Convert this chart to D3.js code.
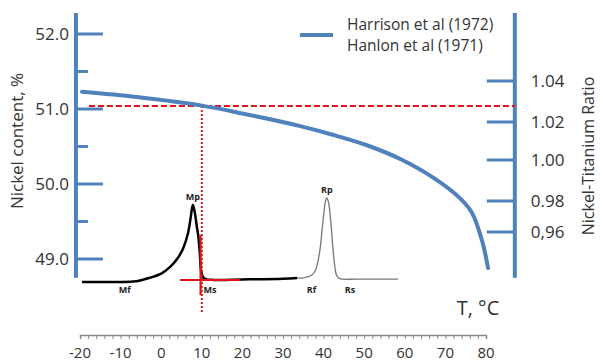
<!DOCTYPE html>
<html>
<head>
<meta charset="utf-8">
<script src="https://cdn.jsdelivr.net/npm/d3@7"></script>
<style>
  body { margin: 0; background: #fff; }
  text { font-family: "Open Sans", sans-serif; }
</style>
</head>
<body>
<div id="chart"></div>
<script>
// Nickel content vs temperature (Harrison 1972 / Hanlon 1971)
var tempNi = [-19.5, -6, 10, 20, 34, 42, 51, 59, 67, 73.5, 76.5, 79, 80.5];
var nickel = [51.23, 51.16, 51.045, 50.94, 50.775, 50.66, 50.51, 50.33, 50.085, 49.815, 49.62, 49.25, 48.88];

// DSC trace, cooling part (black) and heating part (grey)
var coolT = [-19.5, -10, -7, -5.2, -2.8, 0, 2.2, 4, 5.4, 6.6, 7.3, 7.8, 8.3, 8.8, 9.1, 9.5, 9.8, 10.3, 11, 13, 20, 30, 33.5];
var coolH = [0, 0, 0.005, 0.018, 0.05, 0.1, 0.18, 0.28, 0.4, 0.58, 0.78, 0.92, 0.82, 0.65, 0.56, 0.35, 0.14, 0.06, 0.035, 0.025, 0.03, 0.04, 0.048];
var heatT = [33.5, 35, 37, 38, 39, 39.8, 40.5, 40.8, 41.2, 41.8, 42.5, 43.2, 44, 48, 58.3];
var heatH = [0.048, 0.05, 0.08, 0.14, 0.35, 0.7, 0.97, 1.0, 0.95, 0.7, 0.3, 0.08, 0.04, 0.035, 0.035];

var peakLabels = [
  { t: 7.8, h: 0.92, name: "Mp", pos: "top" },
  { t: 12, h: 0, name: "Ms", pos: "below" },
  { t: -9, h: 0, name: "Mf", pos: "below" },
  { t: 40.8, h: 1.0, name: "Rp", pos: "top" },
  { t: 37, h: 0, name: "Rf", pos: "below" },
  { t: 46.5, h: 0, name: "Rs", pos: "below" }
];

var leftTicks = [52.0, 51.0, 50.0, 49.0];
var leftMinor = [51.5, 50.5, 49.5];
var rightTicks = [1.04, 1.02, 1.00, 0.98, 0.96];
var rightLabels = ["1.04", "1.02", "1.00", "0.98", "0,96"];
var xTicks = d3.range(-20, 81, 2);
var xLabels = [-20, -10, 0, 10, 20, 30, 40, 50, 60, 70, 80];

var crossNi = 51.04, crossT = 10;
var legendText = ["Harrison et al (1972)", "Hanlon et al  (1971)"];

var width = 600, height = 361;
var blue = "#4f81bd", red = "#e3121b";

var svg = d3.select("#chart").append("svg")
  .attr("width", width).attr("height", height);

var x = d3.scaleLinear().domain([-20, 80]).range([80, 486]);
var y = d3.scaleLinear().domain([49, 52]).range([259, 34]);
var yR = d3.scaleLinear().domain([0.96, 0.98, 1.00, 1.02, 1.04]).range([232, 201, 160, 122, 81]);
var yD = d3.scaleLinear().domain([0, 1]).range([282, 198]);

var leftX = x(-21), rightX = x(87.1);

// left axis
svg.append("line").attr("x1", leftX).attr("x2", leftX)
  .attr("y1", y(52.28)).attr("y2", y(48.75))
  .attr("stroke", blue).attr("stroke-width", 4);
svg.selectAll(".lmaj").data(leftTicks).enter().append("line")
  .attr("x1", leftX).attr("x2", leftX + 27)
  .attr("y1", d => y(d)).attr("y2", d => y(d))
  .attr("stroke", blue).attr("stroke-width", 3);
svg.selectAll(".lmin").data(leftMinor).enter().append("line")
  .attr("x1", leftX).attr("x2", leftX + 12)
  .attr("y1", d => y(d)).attr("y2", d => y(d))
  .attr("stroke", blue).attr("stroke-width", 3);
svg.selectAll(".llab").data(leftTicks).enter().append("text")
  .attr("x", leftX - 7).attr("y", d => y(d)).attr("dy", "0.35em")
  .attr("text-anchor", "end").attr("font-size", 17).attr("fill", "#333")
  .text(d => d.toFixed(1));
svg.append("text")
  .attr("transform", "translate(23," + 141 + ")rotate(-90)")
  .attr("text-anchor", "middle").attr("font-size", 17).attr("fill", "#333")
  .text("Nickel content, %");

// right axis
svg.append("line").attr("x1", rightX).attr("x2", rightX)
  .attr("y1", y(52.28)).attr("y2", y(48.75))
  .attr("stroke", blue).attr("stroke-width", 4);
svg.selectAll(".rmaj").data(rightTicks).enter().append("line")
  .attr("x1", rightX - 28).attr("x2", rightX)
  .attr("y1", d => yR(d)).attr("y2", d => yR(d))
  .attr("stroke", blue).attr("stroke-width", 3);
svg.selectAll(".rlab").data(rightTicks).enter().append("text")
  .attr("x", rightX + 16).attr("y", d => yR(d)).attr("dy", "0.35em")
  .attr("font-size", 17).attr("fill", "#333")
  .text((d, i) => rightLabels[i]);
svg.append("text")
  .attr("transform", "translate(594," + 156 + ")rotate(-90)")
  .attr("text-anchor", "middle").attr("font-size", 16).attr("fill", "#333")
  .text("Nickel-Titanium Ratio");

// bottom axis
var xAxis = svg.append("g")
  .attr("transform", "translate(0,335)")
  .call(d3.axisBottom(x).tickValues(xTicks).tickSize(4).tickFormat(""));
xAxis.select(".domain").attr("stroke", "#888").attr("stroke-width", 1.5);
xAxis.selectAll(".tick line").attr("stroke", "#888");
svg.selectAll(".xlab").data(xLabels).enter().append("text")
  .attr("x", d => x(d)).attr("y", 358)
  .attr("text-anchor", "middle").attr("font-size", 15).attr("fill", "#333")
  .text(d => d);
svg.append("text").attr("x", 478).attr("y", 315)
  .attr("text-anchor", "middle").attr("font-size", 20).attr("fill", "#333")
  .text("T, \u00b0C");

// DSC trace
var dscLine = d3.line().x(d => x(d[0])).y(d => yD(d[1])).curve(d3.curveCatmullRom.alpha(0.5));
svg.append("path").datum(heatT.map((t, i) => [t, heatH[i]]))
  .attr("d", dscLine).attr("fill", "none")
  .attr("stroke", "#777").attr("stroke-width", 1.3);
svg.append("path").datum(coolT.map((t, i) => [t, coolH[i]]))
  .attr("d", dscLine).attr("fill", "none")
  .attr("stroke", "#000").attr("stroke-width", 2.5);

// tangent construction at Ms
svg.append("line")
  .attr("x1", x(4.6)).attr("x2", x(19.4))
  .attr("y1", yD(0.024)).attr("y2", yD(0.024))
  .attr("stroke", red).attr("stroke-width", 2.2);
svg.append("line")
  .attr("x1", x(9.7)).attr("x2", x(9.7))
  .attr("y1", yD(0.56)).attr("y2", yD(-0.155))
  .attr("stroke", red).attr("stroke-width", 2.2);

svg.selectAll(".plab").data(peakLabels).enter().append("text")
  .attr("x", d => x(d.t))
  .attr("y", d => d.pos === "top" ? yD(d.h) - 5 : yD(d.h) + 11)
  .attr("text-anchor", "middle")
  .attr("font-family", "DejaVu Sans Condensed")
  .attr("font-weight", "bold").attr("font-size", 9).attr("fill", "#222")
  .text(d => d.name);

// red guide lines
svg.append("line")
  .attr("x1", x(-17.8)).attr("x2", rightX)
  .attr("y1", y(crossNi)).attr("y2", y(crossNi))
  .attr("stroke", red).attr("stroke-width", 2).attr("stroke-dasharray", "6,3");
svg.append("line")
  .attr("x1", x(crossT)).attr("x2", x(crossT))
  .attr("y1", y(crossNi)).attr("y2", yD(-0.37))
  .attr("stroke", red).attr("stroke-width", 2).attr("stroke-dasharray", "2,2");

// nickel curve
var niLine = d3.line().x((d, i) => x(tempNi[i])).y(d => y(d)).curve(d3.curveCatmullRom.alpha(0.5));
svg.append("path").datum(nickel)
  .attr("d", niLine).attr("fill", "none")
  .attr("stroke", blue).attr("stroke-width", 4).attr("stroke-linecap", "round");

// legend
svg.append("line").attr("x1", 300).attr("x2", 333).attr("y1", 35).attr("y2", 35)
  .attr("stroke", blue).attr("stroke-width", 4);
svg.selectAll(".leg").data(legendText).enter().append("text")
  .attr("x", 347).attr("y", (d, i) => 30 + i * 21)
  .attr("font-size", 15.5).attr("fill", "#333")
  .text(d => d);
</script>
</body>
</html>
